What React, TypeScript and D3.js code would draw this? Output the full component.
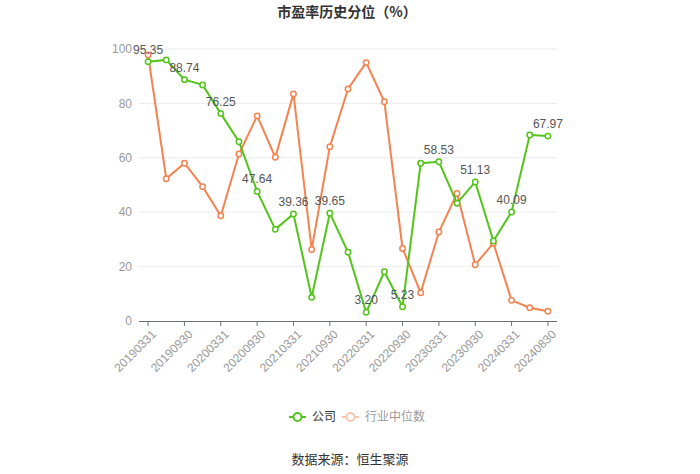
import React from "react";
import * as d3 from "d3";

const categories = [
  "20190331", "20190630", "20190930", "20191231",
  "20200331", "20200630", "20200930", "20201231",
  "20210331", "20210630", "20210930", "20211231",
  "20220331", "20220630", "20220930", "20221231",
  "20230331", "20230630", "20230930", "20231231",
  "20240331", "20240630", "20240830",
];
const companyValues = [
  95.35, 96.0, 88.74, 86.8, 76.25, 65.9, 47.64, 33.7, 39.36, 8.7, 39.65, 25.3,
  3.2, 18.1, 5.23, 58.0, 58.53, 43.3, 51.13, 29.4, 40.09, 68.4, 67.97,
];
const industryValues = [
  97.8, 52.3, 58.0, 49.4, 38.7, 61.4, 75.4, 60.2, 83.5, 26.3, 64.1, 85.3,
  95.0, 80.6, 26.7, 10.4, 32.7, 46.9, 20.7, 28.6, 7.6, 4.9, 3.6,
];
const yTicks = [0, 20, 40, 60, 80, 100];
const seriesNames = ["公司", "行业中位数"];
const titleText = "市盈率历史分位（%）";
const sourceText = "数据来源：恒生聚源";

const W = 700;
const H = 474;
const left = 139;
const right = 557;
const top = 49;
const bottom = 321;
const GREEN = "#52c41a";
const ORANGE = "#f5834f";
const FONT = "'Liberation Sans', 'Noto Sans CJK SC', sans-serif";

export default function App() {
  const x = d3.scaleBand<string>().domain(categories).range([left, right]).padding(0);
  const cx = (c: string) => (x(c) as number) + x.bandwidth() / 2;
  const y = d3.scaleLinear().domain([0, 100]).range([bottom, top]);

  const line = d3
    .line<number>()
    .x((_, i) => cx(categories[i]))
    .y((d) => y(d));

  const labeled = categories.filter((_, i) => i % 2 === 0);

  return (
    <svg width={W} height={H} style={{ position: "absolute", left: 0, top: 0 }} fontFamily={FONT}>
      <rect width={W} height={H} fill="#fff" />
      <text x={347} y={17} textAnchor="middle" fontSize={14} fontWeight="bold" fill="#333" fontFamily="'Noto Sans CJK SC', sans-serif">
        {titleText}
      </text>
      {yTicks.map((t) => (
        <g key={t}>
          {t !== 0 && (
            <line x1={left} x2={right} y1={y(t)} y2={y(t)} stroke="#ececf0" strokeWidth={1} />
          )}
          <text x={132} y={y(t)} dy="0.35em" textAnchor="end" fontSize={12} fill="#999">
            {t}
          </text>
        </g>
      ))}
      <line x1={left} x2={right} y1={bottom + 0.5} y2={bottom + 0.5} stroke="#6e7079" strokeWidth={1} />
      {labeled.map((c) => (
        <g key={c}>
          <line x1={cx(c)} x2={cx(c)} y1={bottom} y2={bottom + 5} stroke="#6e7079" strokeWidth={1} />
          <text
            transform={`translate(${cx(c) + 3},${bottom + 8}) rotate(-45)`}
            textAnchor="end"
            dy="0.7em"
            fontSize={12}
            fill="#999"
          >
            {c}
          </text>
        </g>
      ))}
      <path d={line(industryValues) || ""} fill="none" stroke={ORANGE} strokeWidth={2} />
      {industryValues.map((v, i) => (
        <circle key={i} cx={cx(categories[i])} cy={y(v)} r={2.7} fill="#fff" stroke={ORANGE} strokeWidth={1.5} />
      ))}
      <path d={line(companyValues) || ""} fill="none" stroke={GREEN} strokeWidth={2} />
      {companyValues.map((v, i) => (
        <circle key={i} cx={cx(categories[i])} cy={y(v)} r={2.7} fill="#fff" stroke={GREEN} strokeWidth={1.5} />
      ))}
      {companyValues.map((v, i) =>
        i % 2 === 0 ? (
          <text
            key={i}
            x={cx(categories[i])}
            y={y(v) - 8}
            textAnchor="middle"
            fontSize={12}
            fill="#555"
          >
            {v.toFixed(2)}
          </text>
        ) : null
      )}
      <g fontFamily="'Noto Sans CJK SC', sans-serif">
        <line x1={289} x2={306} y1={417} y2={417} stroke={GREEN} strokeWidth={2} />
        <circle cx={297.5} cy={417} r={4} fill="#fff" stroke={GREEN} strokeWidth={2} />
        <text x={312} y={417} dy="0.35em" fontSize={12} fill="#333">
          {seriesNames[0]}
        </text>
        <g opacity={0.45}>
          <line x1={342} x2={359} y1={417} y2={417} stroke={ORANGE} strokeWidth={2} />
          <circle cx={350.5} cy={417} r={4} fill="#fff" stroke={ORANGE} strokeWidth={2} />
        </g>
        <text x={365} y={417} dy="0.35em" fontSize={12} fill="#999">
          {seriesNames[1]}
        </text>
      </g>
      <text x={350} y={459} dy="0.35em" textAnchor="middle" fontSize={13} fill="#333" fontFamily="'Noto Sans CJK SC', sans-serif">
        {sourceText}
      </text>
    </svg>
  );
}
